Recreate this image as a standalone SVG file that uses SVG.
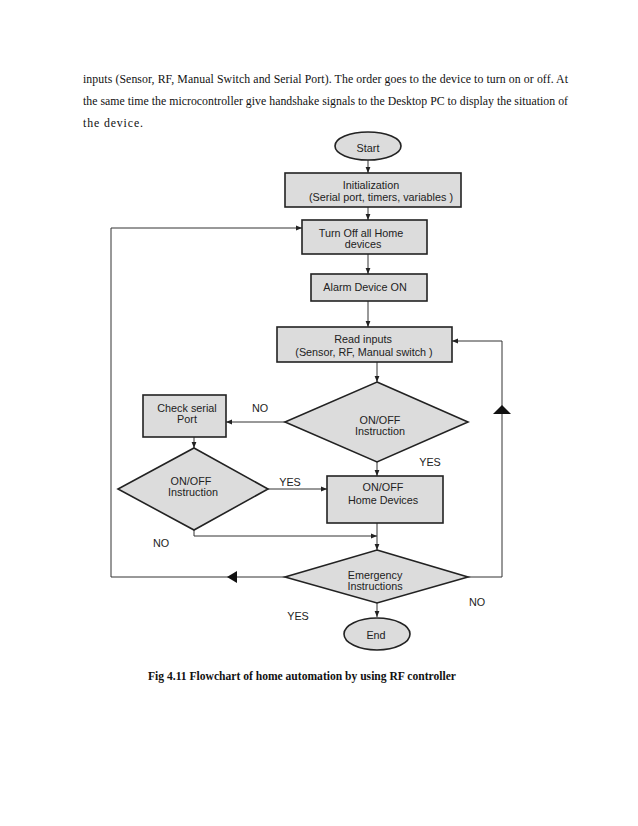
<svg xmlns="http://www.w3.org/2000/svg" width="638" height="826" viewBox="0 0 638 826">
<defs>
<marker id="ah" viewBox="0 0 10 10" refX="10" refY="5" markerWidth="6" markerHeight="6" markerUnits="userSpaceOnUse" orient="auto">
<path d="M0,1 L10,5 L0,9 z" fill="#222"/>
</marker>
<style>
.para{font-family:"Liberation Serif","Times New Roman",serif;font-size:11.8px;fill:#111}
.cap{font-family:"Liberation Serif","Times New Roman",serif;font-size:13px;font-weight:bold;fill:#111}
.n{fill:#dcdcdc;stroke:#222;stroke-width:1.6}
.t{font-family:"Liberation Sans",Arial,sans-serif;font-size:10.8px;fill:#222;text-anchor:middle}
.lbl{font-family:"Liberation Sans",Arial,sans-serif;font-size:10.8px;fill:#222;text-anchor:middle}
.c{fill:none;stroke:#333;stroke-width:1}
.ca{fill:none;stroke:#333;stroke-width:1;marker-end:url(#ah)}
</style>
</defs>
<rect width="638" height="826" fill="#fff"/>
<g id="paragraph">
<text class="para" x="83" y="83" textLength="485" lengthAdjust="spacing">inputs (Sensor, RF, Manual Switch and Serial Port). The order goes to the device to turn on or off. At</text>
<text class="para" x="83" y="105" textLength="485" lengthAdjust="spacing">the same time the microcontroller give handshake signals to the Desktop PC to display the situation of</text>
<text class="para" x="83" y="127" textLength="60" lengthAdjust="spacing">the device.</text>
</g>
<g id="connectors">
<line class="ca" x1="368" y1="160" x2="368" y2="173"/>
<line class="ca" x1="368" y1="207" x2="368" y2="220"/>
<line class="ca" x1="368" y1="254" x2="368" y2="274"/>
<line class="ca" x1="368" y1="301" x2="368" y2="327"/>
<line class="ca" x1="377" y1="362" x2="377" y2="382"/>
<line class="ca" x1="285" y1="422" x2="226" y2="422"/>
<line class="ca" x1="194" y1="437" x2="194" y2="448"/>
<line class="ca" x1="377" y1="462" x2="377" y2="476"/>
<line class="ca" x1="268" y1="489" x2="327" y2="489"/>
<polyline class="ca" points="194,530 194,536 377,536"/>
<line class="ca" x1="377" y1="523" x2="377" y2="550"/>
<polyline class="ca" points="285,577 111,577 111,228 302,228"/>
<polyline class="ca" points="468,577 502,577 502,341 452,341"/>
<line class="ca" x1="377" y1="603" x2="377" y2="617"/>
<polygon points="227,577 237,571 237,583" fill="#111"/>
<polygon points="502,405 493,414 511,414" fill="#111"/>
</g>
<g id="start">
<ellipse class="n" cx="368" cy="146" rx="33" ry="14"/>
<text class="t" x="368" y="152">Start</text>
</g>
<g id="init">
<rect class="n" x="285" y="173" width="176" height="34"/>
<text class="t" x="371" y="189">Initialization</text>
<text class="t" x="381" y="201">(Serial port, timers, variables  )</text>
</g>
<g id="turnoff">
<rect class="n" x="302" y="220" width="125" height="34"/>
<text class="t" x="361" y="237">Turn Off all Home</text>
<text class="t" x="363" y="248">devices</text>
</g>
<g id="alarm">
<rect class="n" x="311" y="274" width="116" height="27"/>
<text class="t" x="365" y="291">Alarm Device ON</text>
</g>
<g id="read">
<rect class="n" x="277" y="327" width="175" height="35"/>
<text class="t" x="363" y="343">Read inputs</text>
<text class="t" x="364" y="356">(Sensor, RF, Manual switch    )</text>
</g>
<g id="decision1">
<polygon class="n" points="377,382 468,422 377,462 285,422"/>
<text class="t" x="380" y="424">ON/OFF</text>
<text class="t" x="380" y="435">Instruction</text>
</g>
<g id="checkserial">
<rect class="n" x="143" y="395" width="83" height="42"/>
<text class="t" x="187" y="412">Check serial</text>
<text class="t" x="187" y="423">Port</text>
</g>
<g id="decision2">
<polygon class="n" points="194,448 268,489 194,530 118,489"/>
<text class="t" x="191" y="485">ON/OFF</text>
<text class="t" x="193" y="496">Instruction</text>
</g>
<g id="homedevices">
<rect class="n" x="327" y="476" width="116" height="47"/>
<text class="t" x="383" y="491">ON/OFF</text>
<text class="t" x="383" y="504">Home Devices</text>
</g>
<g id="emergency">
<polygon class="n" points="377,550 468,577 377,603 285,577"/>
<text class="t" x="375" y="579">Emergency</text>
<text class="t" x="375" y="590">Instructions</text>
</g>
<g id="end">
<ellipse class="n" cx="377" cy="634" rx="33" ry="16"/>
<text class="t" x="376" y="639">End</text>
</g>
<g id="labels">
<text class="lbl" x="260" y="412">NO</text>
<text class="lbl" x="430" y="466">YES</text>
<text class="lbl" x="290" y="486">YES</text>
<text class="lbl" x="161" y="547">NO</text>
<text class="lbl" x="477" y="606">NO</text>
<text class="lbl" x="298" y="620">YES</text>
</g>
<g id="caption">
<text class="cap" x="148" y="680" textLength="308" lengthAdjust="spacingAndGlyphs">Fig 4.11 Flowchart of home automation by using RF controller</text>
</g>
</svg>
